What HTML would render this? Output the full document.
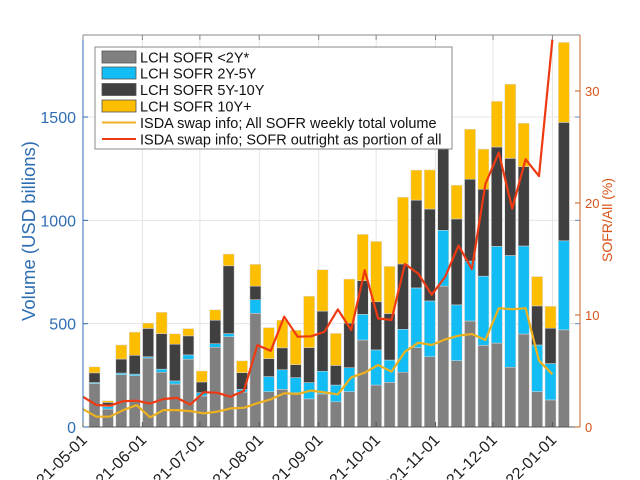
<!DOCTYPE html>
<html><head><meta charset="utf-8"><style>
html,body{margin:0;padding:0;background:#fff;}
svg{display:block;font-family:"Liberation Sans",sans-serif;}
</style></head><body>
<svg id="chart" width="640" height="480" viewBox="0 0 640 480">
<g id="grid"></g>
<g id="bars"></g>
<g id="lines"></g>
<g id="axes"></g>
<g id="legend"></g>
</svg>
<script>
const monthTicks = ["2021-05-01","2021-06-01","2021-07-01","2021-08-01","2021-09-01","2021-10-01","2021-11-01","2021-12-01","2022-01-01"];
const monthDays = [0,31,61,92,123,153,184,214,245];
const leftTicks = [0,500,1000,1500];
const rightTicks = [0,10,20,30];
const gray2y = [210,87,253,248,334,265,208,328,150,386,437,169,550,171,182,166,136,160,122,171,421,203,216,265,384,340,682,321,513,395,406,289,450,171,131,470];
const blue2to5 = [5,11,8,8,6,15,15,21,16,17,15,13,66,73,95,73,79,110,81,116,124,170,108,208,289,270,270,270,290,335,468,541,426,226,176,431];
const dark5to10 = [47,21,68,91,137,172,178,92,52,114,328,81,66,87,106,63,169,291,95,216,163,233,225,316,425,445,413,416,396,421,481,470,384,189,171,573];
const yellow10p = [29,8,68,112,26,103,50,35,53,50,57,57,105,150,134,166,249,200,155,213,224,292,228,323,145,189,50,163,242,194,221,359,210,142,106,387];
const isdaTotal = [86,50,50,82,106,47,82,82,77,66,74,90,93,115,134,163,160,176,168,158,240,263,300,268,364,408,397,424,442,450,421,575,570,575,321,255];
const sofrPct = [2.7,1.96,1.9,2.3,2.35,2.1,2.5,2.6,2.0,3.1,3.06,2.7,3.24,7.3,6.8,9.85,8.06,8.1,8.5,10.5,8.66,14.0,9.7,9.55,14.55,13.7,11.8,13.4,16.2,14.1,21.7,24.5,19.5,23.9,22.4,34.6];

const NS="http://www.w3.org/2000/svg";
const L=83,R=580,T=35,B=427;
const xDay=d=>L+d*1.916;
const yL=v=>B-v*(B-T)/1897;
const yR=v=>B-v*(B-T)/35;
function mk(tag,attrs,parent){const e=document.createElementNS(NS,tag);for(const k in attrs)e.setAttribute(k,attrs[k]);parent.appendChild(e);return e;}
const gGrid=document.getElementById('grid'),gBars=document.getElementById('bars'),gLines=document.getElementById('lines'),gAxes=document.getElementById('axes'),gLegend=document.getElementById('legend');

monthDays.forEach((d,i)=>{const g=mk('line',{x1:xDay(d),x2:xDay(d),y1:T,y2:B,stroke:'#e4e4e4','stroke-width':1},gGrid);

});
leftTicks.forEach(v=>{if(v===0)return;const g=mk('line',{x1:L,x2:R,y1:yL(v),y2:yL(v),stroke:'#e4e4e4','stroke-width':1},gGrid);

});

const series=[[gray2y,'#808080'],[blue2to5,'#12bdf5'],[dark5to10,'#404040'],[yellow10p,'#fdbe00']];
const names=['bar-lt2y','bar-2y-5y','bar-5y-10y','bar-10y-plus'];
gray2y.forEach((_,k)=>{let base=0;const cx=xDay(6+7*k);
 series.forEach(([arr,col],s)=>{const v=arr[k];const r=mk('rect',{x:cx-5.5,y:yL(base+v),width:11,height:yL(base)-yL(base+v),fill:col,stroke:'#d8d8d8','stroke-width':0.5},gBars);
 
 
 base+=v;});
});

function pathOf(arr,fy){return arr.map((v,k)=>(k?'L':'M')+xDay(7*k).toFixed(1)+','+fy(v).toFixed(1)).join(' ');}
const ly=mk('path',{d:pathOf(isdaTotal,yL),fill:'none',stroke:'#edb120','stroke-width':2.2,'stroke-linejoin':'round'},gLines);


const lr=mk('path',{d:pathOf(sofrPct,yR),fill:'none',stroke:'#ee3a12','stroke-width':2.2,'stroke-linejoin':'round'},gLines);



const topAxis=mk('line',{x1:L,x2:R,y1:T,y2:T,stroke:'#888','stroke-width':1},gAxes);


const bot=mk('line',{x1:L,x2:R,y1:B,y2:B,stroke:'#555','stroke-width':1},gAxes);


const la=mk('line',{x1:L,x2:L,y1:T,y2:B,stroke:'#2f6db3','stroke-width':1},gAxes);


const ra=mk('line',{x1:R,x2:R,y1:T,y2:B,stroke:'#c8602a','stroke-width':1},gAxes);


leftTicks.forEach(v=>{const t=mk('text',{x:76,y:yL(v)+6,'text-anchor':'end','font-size':16,fill:'#2f6db3'},gAxes);t.textContent=v;


mk('line',{x1:L,x2:L+5,y1:yL(v),y2:yL(v),stroke:'#2f6db3'},gAxes);
mk('line',{x1:R,x2:R-5,y1:yL(v),y2:yL(v),stroke:'#6a8cc0'},gAxes);});
rightTicks.forEach(v=>{const t=mk('text',{x:585,y:yR(v)+5,'font-size':13,fill:'#d9541a'},gAxes);t.textContent=v;


mk('line',{x1:R,x2:R-5,y1:yR(v),y2:yR(v),stroke:'#c8602a'},gAxes);});
monthTicks.forEach((lab,i)=>{const x=xDay(monthDays[i]);
mk('line',{x1:x,x2:x,y1:T,y2:T+5,stroke:'#888'},gAxes);
mk('line',{x1:x,x2:x,y1:B,y2:B-5,stroke:'#555'},gAxes);
const t=mk('text',{x:x+5,y:441,'text-anchor':'end','font-size':16,fill:'#222',transform:`rotate(-45 ${x+5} 441)`},gAxes);t.textContent=lab;

});
const yt=mk('text',{x:0,y:0,'text-anchor':'middle','font-size':18.5,fill:'#2f6db3',transform:'translate(35 231) rotate(-90)'},gAxes);yt.textContent='Volume (USD billions)';


const rt=mk('text',{x:0,y:0,'text-anchor':'middle','font-size':14,fill:'#d9541a',transform:'translate(612 220) rotate(-90)'},gAxes);rt.textContent='SOFR/All (%)';



const lb=mk('rect',{x:95,y:47,width:357,height:102,fill:'#fff',stroke:'#888','stroke-width':1},gLegend);


const legItems=[['LCH SOFR <2Y*','#808080','rect'],['LCH SOFR 2Y-5Y','#12bdf5','rect'],['LCH SOFR 5Y-10Y','#404040','rect'],['LCH SOFR 10Y+','#fdbe00','rect'],['ISDA swap info; All SOFR weekly total volume','#edb120','line'],['ISDA swap info; SOFR outright as portion of all','#ee3a12','line']];
const rowY=[57,73,89.5,106,122.5,139];
legItems.forEach((it,i)=>{const y=rowY[i];
 if(it[2]==='rect'){const s=mk('rect',{x:102,y:y-6,width:34,height:12,fill:it[1],stroke:'#555','stroke-width':0.8},gLegend);
 
 }
 else{const s=mk('line',{x1:102,x2:136,y1:y,y2:y,stroke:it[1],'stroke-width':2},gLegend);
 
 }
 const t=mk('text',{x:140,y:y+5.5,'font-size':14.5,fill:'#111'},gLegend);t.textContent=it[0];
 
 });
</script>
</body></html>
